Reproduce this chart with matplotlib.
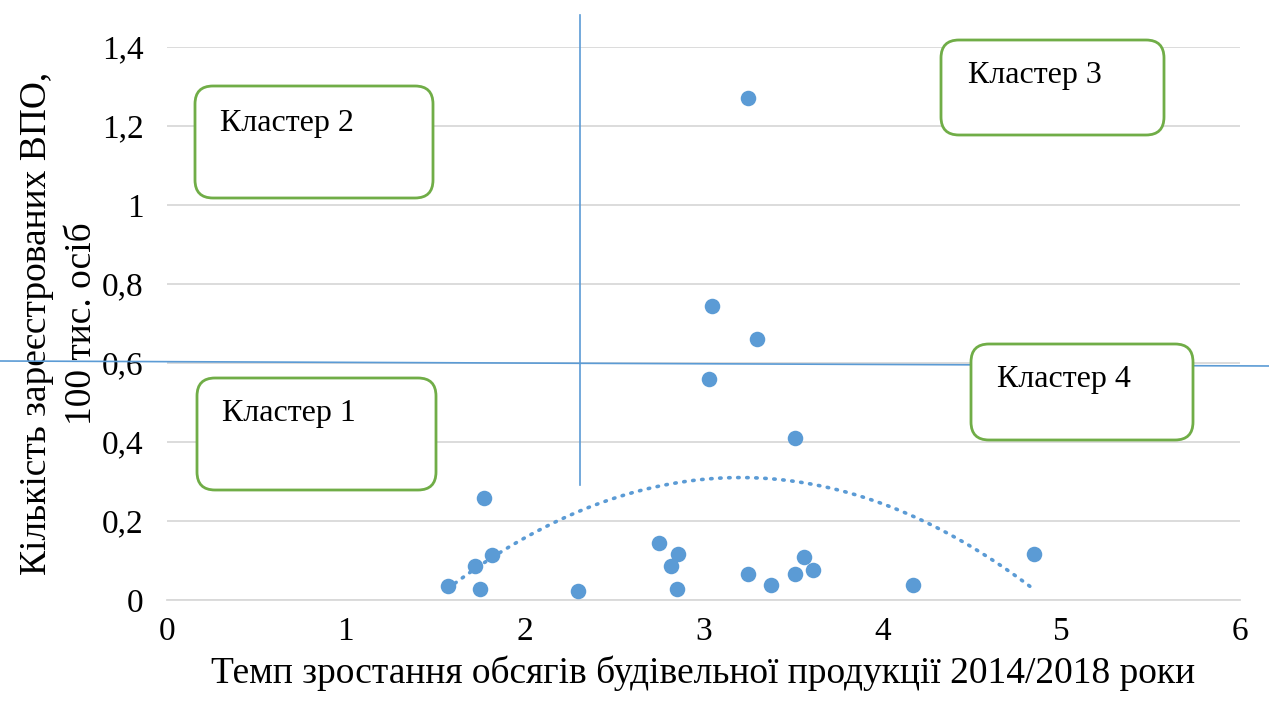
import matplotlib
matplotlib.use("Agg")
import matplotlib.pyplot as plt
import numpy as np
from matplotlib.patches import FancyBboxPatch
from matplotlib.lines import Line2D
from matplotlib.transforms import IdentityTransform

# growth rate of construction output 2014/2018 vs registered IDPs (100k persons)
growth = [1.57, 1.72, 1.75, 1.77, 1.82, 2.30, 2.75, 2.82, 2.86, 2.85,
          3.25, 3.38, 3.51, 3.56, 3.61, 4.17, 4.85,
          3.25, 3.05, 3.30, 3.03, 3.51]
idp = [0.035, 0.086, 0.027, 0.257, 0.114, 0.024, 0.144, 0.087, 0.116, 0.029,
       0.067, 0.037, 0.067, 0.110, 0.075, 0.038, 0.116,
       1.270, 0.745, 0.660, 0.560, 0.410]

cluster_names = ["Кластер 1", "Кластер 2", "Кластер 3", "Кластер 4"]
x_ticks = [0, 1, 2, 3, 4, 5, 6]
y_ticks = [0, 0.2, 0.4, 0.6, 0.8, 1.0, 1.2, 1.4]
y_ticklabels = ["0", "0,2", "0,4", "0,6", "0,8", "1", "1,2", "1,4"]

plt.rcParams['font.family'] = ['Liberation Serif', 'DejaVu Serif']

W, H = 1269, 704
fig = plt.figure(figsize=(W / 100, H / 100), dpi=100)
ax = fig.add_axes([167 / W, 1 - 600 / H, (1240 - 167) / W, (600 - 47) / H])

blue = "#5B9BD5"
ax.scatter(growth, idp, s=125, color=blue, zorder=3, linewidths=0)

# polynomial (order 2) trend line, like Excel
x = np.array(growth)
y = np.array(idp)
coef = np.polyfit(x, y, 2)
xs = np.linspace(x.min(), x.max(), 200)
ax.plot(xs, np.polyval(coef, xs), color=blue, lw=2.6, ls=(0, (0.4, 2.1)),
        dash_capstyle='round', zorder=2)

ax.set_xlim(0, 6)
ax.set_ylim(0, 1.4)
ax.set_xticks(x_ticks)
ax.set_xticklabels([str(t) for t in x_ticks], fontsize=24)
ax.set_yticks(y_ticks)
ax.set_yticklabels(y_ticklabels, fontsize=24)
ax.tick_params(length=0)
ax.tick_params(axis='y', pad=17)
ax.tick_params(axis='x', pad=12)
ax.grid(axis='y', color='#D9D9D9', lw=1.3)
ax.set_axisbelow(True)
for s in ['top', 'right', 'left']:
    ax.spines[s].set_visible(False)
ax.spines['bottom'].set_color('#D9D9D9')
ax.spines['bottom'].set_linewidth(1.3)

ax.set_xlabel("Темп зростання обсягів будівельної продукції 2014/2018 роки",
              fontsize=27, labelpad=6)
ax.set_ylabel("Кількість зареєстрованих ВПО,\n100 тис. осіб", fontsize=27,
              labelpad=2, linespacing=1.38)

# divider lines drawn on top of the chart (figure pixels)
def fx(px):
    return px / W

def fy(py):
    return 1 - py / H

fig.add_artist(Line2D([fx(580), fx(580)], [fy(15), fy(485)], color=blue, lw=1.2))
fig.add_artist(Line2D([fx(0), fx(1269)], [fy(361), fy(366)], color=blue, lw=1.2))

# cluster boxes: (name, left, top, right, bottom, text x, text y) in pixels
boxes = [
    (cluster_names[0], 197, 378, 436, 490, 222, 414),
    (cluster_names[1], 195, 86, 433, 198, 220, 124),
    (cluster_names[2], 941, 40, 1164, 135, 968, 76),
    (cluster_names[3], 971, 344, 1193, 440, 997, 380),
]
for name, l, t, r, b, tx, ty in boxes:
    patch = FancyBboxPatch((l, H - b), r - l, b - t,
                           boxstyle="round,pad=0,rounding_size=18",
                           transform=IdentityTransform(), facecolor='white',
                           edgecolor='#70AD47', lw=2, zorder=5)
    fig.add_artist(patch)
    fig.text(fx(tx), fy(ty), name, fontsize=23, ha='left', va='center', zorder=6)

fig.savefig("out.png", dpi=100)
